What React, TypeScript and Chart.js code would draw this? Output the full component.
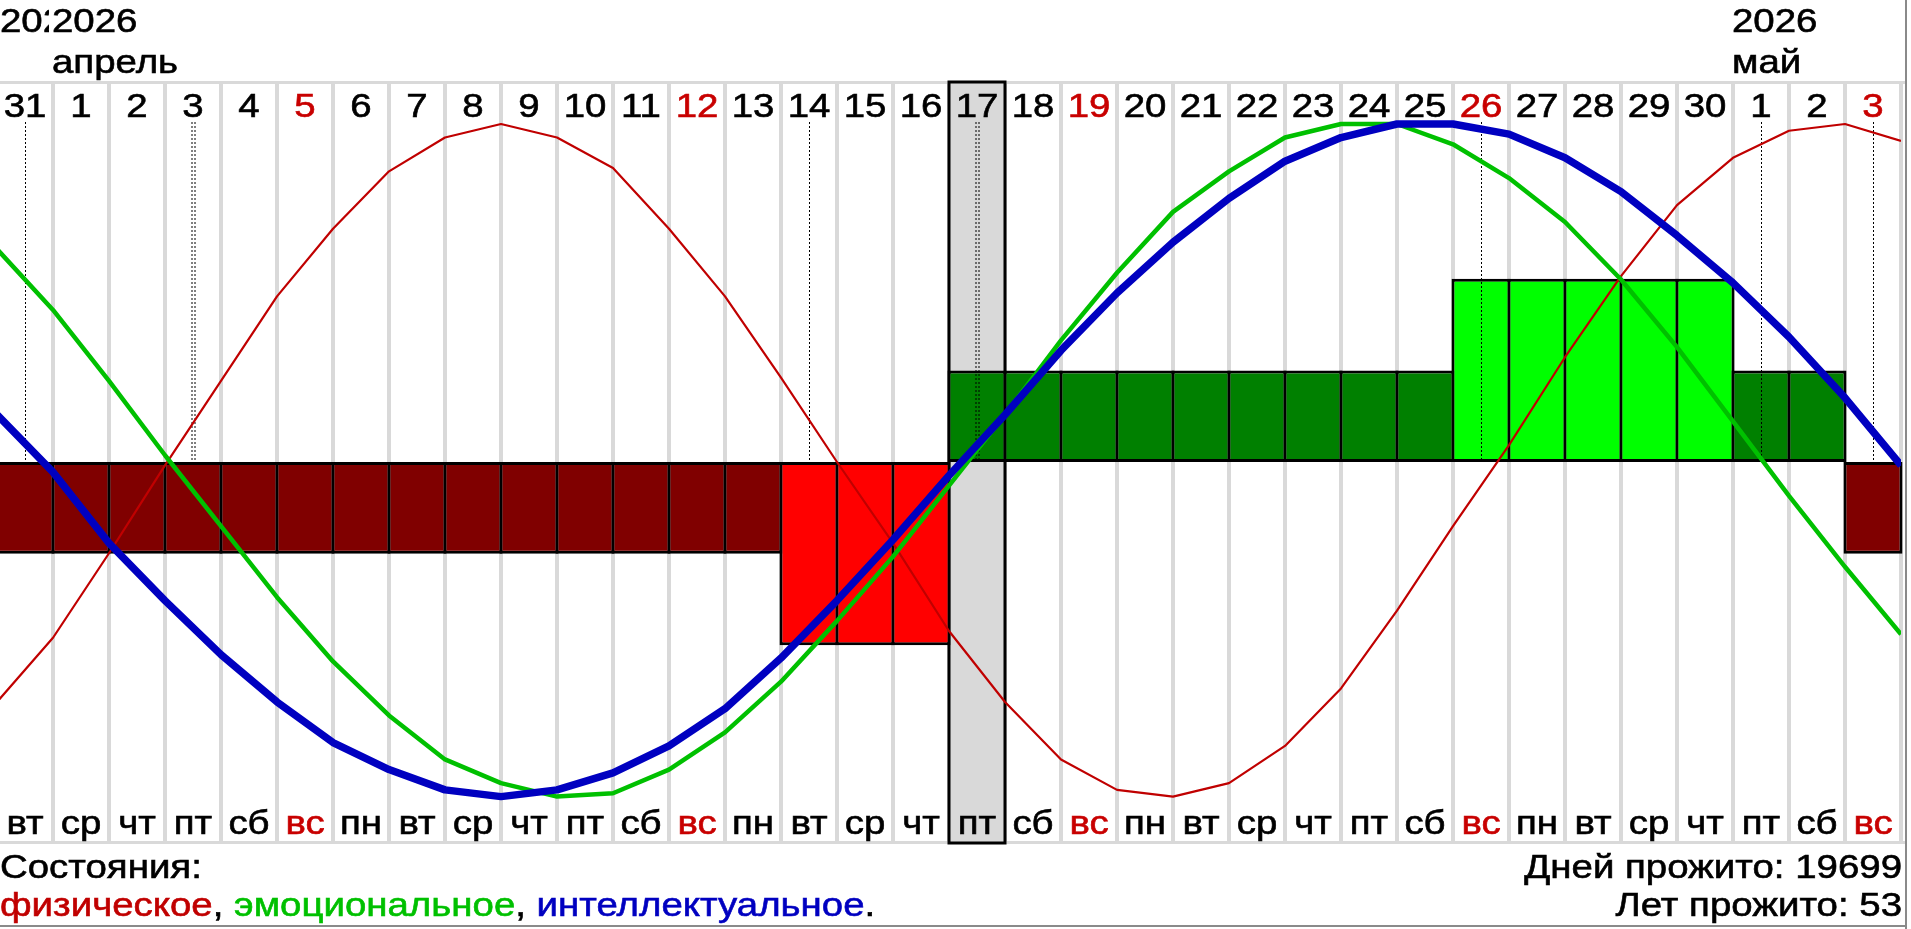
import React, { useEffect, useRef } from 'react';
import { Chart, registerables } from 'chart.js';

Chart.register(...registerables);

// ---- data ----
const dayNumbers = ['31', '1', '2', '3', '4', '5', '6', '7', '8', '9', '10', '11', '12', '13', '14', '15', '16', '17', '18', '19', '20', '21', '22', '23', '24', '25', '26', '27', '28', '29', '30', '1', '2', '3'];
const weekdays = ['вт', 'ср', 'чт', 'пт', 'сб', 'вс', 'пн', 'вт', 'ср', 'чт', 'пт', 'сб', 'вс', 'пн', 'вт', 'ср', 'чт', 'пт', 'сб', 'вс', 'пн', 'вт', 'ср', 'чт', 'пт', 'сб', 'вс', 'пн', 'вт', 'ср', 'чт', 'пт', 'сб', 'вс'];
const holidayCols = [5, 12, 19, 26, 33];
const headerCols = [0, 1, 31];
const headerYears = ['2026', '2026', '2026'];
const headerMonths = ['', 'апрель', 'май'];
const todayCol = 17;
const criticalCols = [0, 3, 14, 17, 26, 31, 33];
const criticalCounts = [1, 2, 1, 2, 1, 1, 1];

// biorhythm values (%) at column boundaries
const physical = [-71, -52, -27, -1, 24, 49, 69, 86, 96, 100, 96, 87, 69, 49, 25, 0, -24, -50, -71, -88, -97, -99, -95, -84, -67, -44, -19, 5, 31, 55, 76, 90, 98, 100, 95];
const emotional = [63, 45, 24, 2, -19, -40, -59, -75, -88, -95, -99, -98, -91, -80, -65, -47, -28, -7, 14, 36, 56, 74, 86, 96, 100, 100, 94, 84, 71, 54, 34, 12, -10, -31, -51];
const intellectual = [14, -3, -24, -41, -57, -71, -83, -91, -97, -99, -97, -92, -84, -73, -58, -41, -23, -4, 14, 33, 50, 65, 78, 89, 96, 100, 100, 97, 90, 80, 67, 53, 37, 19, -1];
// combined state per day
const stateLevels = [-1, -1, -1, -1, -1, -1, -1, -1, -1, -1, -1, -1, -1, -1, -2, -2, -2, 1, 1, 1, 1, 1, 1, 1, 1, 1, 2, 2, 2, 2, 2, 1, 1, -1];

const legendTitle = 'Состояния:';
const legendNames = ['физическое', 'эмоциональное', 'интеллектуальное'];
const legendColors = ['#c00000', '#00c000', '#0000c0'];
const daysLived = 19699;
const yearsLived = 53;

// ---- styles ----
const GRID = '#d9d9d9';
const FONT = '34px "Liberation Sans", Arial, sans-serif';
const SX = 1.13;
const RED_TEXT = '#c80000';
const BAR_BORDER = 3;

function stateColor(v: number) {
  if (v <= -2) return '#ff0000';
  if (v < 0) return '#800000';
  if (v >= 2) return '#00ff00';
  return '#008000';
}

function txt(ctx: CanvasRenderingContext2D, s: string, x: number, y: number, align: CanvasTextAlign, color: string) {
  ctx.save();
  ctx.font = FONT;
  ctx.fillStyle = color;
  ctx.strokeStyle = color;
  ctx.lineWidth = 0.6;
  ctx.textBaseline = 'alphabetic';
  ctx.textAlign = align;
  ctx.translate(x, y);
  ctx.scale(SX, 1);
  ctx.fillText(s, 0, 0);
  ctx.strokeText(s, 0, 0);
  ctx.restore();
}
function tw(ctx: CanvasRenderingContext2D, s: string) {
  ctx.save();
  ctx.font = FONT;
  const w = ctx.measureText(s).width * SX;
  ctx.restore();
  return w;
}

const decorPlugin = {
  id: 'decor',
  beforeDatasetsDraw(chart: any) {
    const { ctx, scales } = chart;
    const x = scales.x;
    const W = chart.width;
    ctx.save();
    ctx.fillStyle = '#ffffff';
    ctx.fillRect(0, 0, W, chart.height);
    ctx.fillStyle = GRID;
    ctx.fillRect(0, 81, 1909, 3);
    ctx.fillRect(0, 841, 1909, 3);
    for (let i = 0; i <= dayNumbers.length; i++) {
      const px = x.getPixelForValue(i);
      ctx.fillRect(px - 2, 83, 4, 759);
    }
    const l = x.getPixelForValue(todayCol);
    const r = x.getPixelForValue(todayCol + 1);
    ctx.fillStyle = '#d9d9d9';
    ctx.fillRect(l, 82, r - l, 761);
    ctx.strokeStyle = '#000';
    ctx.lineWidth = 3;
    ctx.strokeRect(l, 82, r - l, 761);
    ctx.restore();
  },
  afterDatasetDraw(chart: any, args: any) {
    if (args.index !== 0) return;
    const { ctx, scales } = chart;
    const x = scales.x;
    const y0 = scales.y2.getPixelForValue(0);
    ctx.save();
    ctx.strokeStyle = '#000';
    ctx.lineWidth = 1;
    ctx.setLineDash([2, 2]);
    criticalCols.forEach((c, k) => {
      const cx = Math.round(x.getPixelForValue(c + 0.5));
      const offs = criticalCounts[k] === 2 ? [-1.5, 1.5] : [0];
      offs.forEach((o) => {
        ctx.beginPath();
        ctx.moveTo(cx + o + 0.5, 122);
        ctx.lineTo(cx + o + 0.5, y0);
        ctx.stroke();
      });
    });
    ctx.restore();
  },
  afterDraw(chart: any) {
    const { ctx, scales } = chart;
    const x = scales.x;
    ctx.save();
    // month / year headers
    headerCols.forEach((c, k) => {
      const px = Math.max(x.getPixelForValue(c) - 1, 3);
      if (k > 0) {
        const w = Math.max(tw(ctx, headerYears[k]), tw(ctx, headerMonths[k]));
        ctx.fillStyle = '#fff';
        ctx.fillRect(px - 3, 0, w + 4, 80);
      }
      txt(ctx, headerYears[k], px, 32, 'left', '#000');
      if (headerMonths[k]) txt(ctx, headerMonths[k], px, 73, 'left', '#000');
    });
    // day numbers and weekdays
    dayNumbers.forEach((d, c) => {
      const cx = x.getPixelForValue(c + 0.5);
      const col = holidayCols.includes(c) ? RED_TEXT : '#000';
      txt(ctx, d, cx, 117, 'center', col);
      txt(ctx, weekdays[c], cx, 834, 'center', col);
    });
    // legend
    txt(ctx, legendTitle, 3, 878, 'left', '#000');
    let lx = 3;
    legendNames.forEach((n, k) => {
      txt(ctx, n, lx, 916, 'left', legendColors[k]);
      lx += tw(ctx, n);
      const sep = k < legendNames.length - 1 ? ', ' : '.';
      txt(ctx, sep, lx, 916, 'left', '#000');
      lx += tw(ctx, sep);
    });
    const rx = x.getPixelForValue(dayNumbers.length) + 1;
    txt(ctx, 'Дней прожито: ' + daysLived, rx, 878, 'right', '#000');
    txt(ctx, 'Лет прожито: ' + yearsLived, rx, 916, 'right', '#000');
    // window border
    ctx.fillStyle = '#8a8a8a';
    ctx.fillRect(1908, 0, 2, chart.height);
    ctx.fillRect(0, 925, 1910, 2);
    ctx.restore();
  },
};

export default function App() {
  const ref = useRef<HTMLCanvasElement>(null);
  useEffect(() => {
    const canvas = ref.current;
    if (!canvas) return;
    const line = (data: number[], color: string, width: number, order: number) => ({
      type: 'line' as const,
      data: data.map((v, i) => ({ x: i, y: v })),
      borderColor: color,
      borderWidth: width,
      pointRadius: 0,
      tension: 0,
      fill: false,
      borderJoinStyle: 'round' as const,
      xAxisID: 'x',
      yAxisID: 'y',
      order,
    });
    const chart = new Chart(canvas, {
      type: 'bar',
      data: {
        datasets: [
          {
            type: 'bar',
            data: stateLevels.map((v, k) => ({ x: k + 0.5, y: v })),
            backgroundColor: stateLevels.map(stateColor),
            borderColor: '#000',
            borderWidth: BAR_BORDER,
            borderSkipped: false,
            categoryPercentage: 1,
            barPercentage: (56 + BAR_BORDER) / 56,
            xAxisID: 'x',
            yAxisID: 'y2',
            order: 4,
            clip: 4,
          } as any,
          line(physical, '#c00000', 2.2, 3),
          line(emotional, '#00c000', 4.5, 2),
          line(intellectual, '#0000c0', 7.5, 1),
        ],
      },
      options: {
        responsive: false,
        animation: false,
        events: [],
        layout: { padding: { left: 0, right: 10, top: 0, bottom: 0 } },
        plugins: { legend: { display: false }, tooltip: { enabled: false } },
        scales: {
          x: { type: 'linear', min: 0, max: 34, display: false, offset: false },
          y: { type: 'linear', min: -138.17, max: 136.69, display: false },
          y2: { type: 'linear', min: -5.098, max: 5.044, display: false },
        },
      } as any,
      plugins: [decorPlugin],
    });
    return () => chart.destroy();
  }, []);
  return (
    <div style={{ position: 'fixed', left: 0, top: 0, width: 1911, height: 929, overflow: 'hidden', background: '#fff' }}>
      <canvas ref={ref} width={1914} height={929} style={{ position: 'absolute', left: -3, top: 0, width: 1914, height: 929 }} />
    </div>
  );
}
